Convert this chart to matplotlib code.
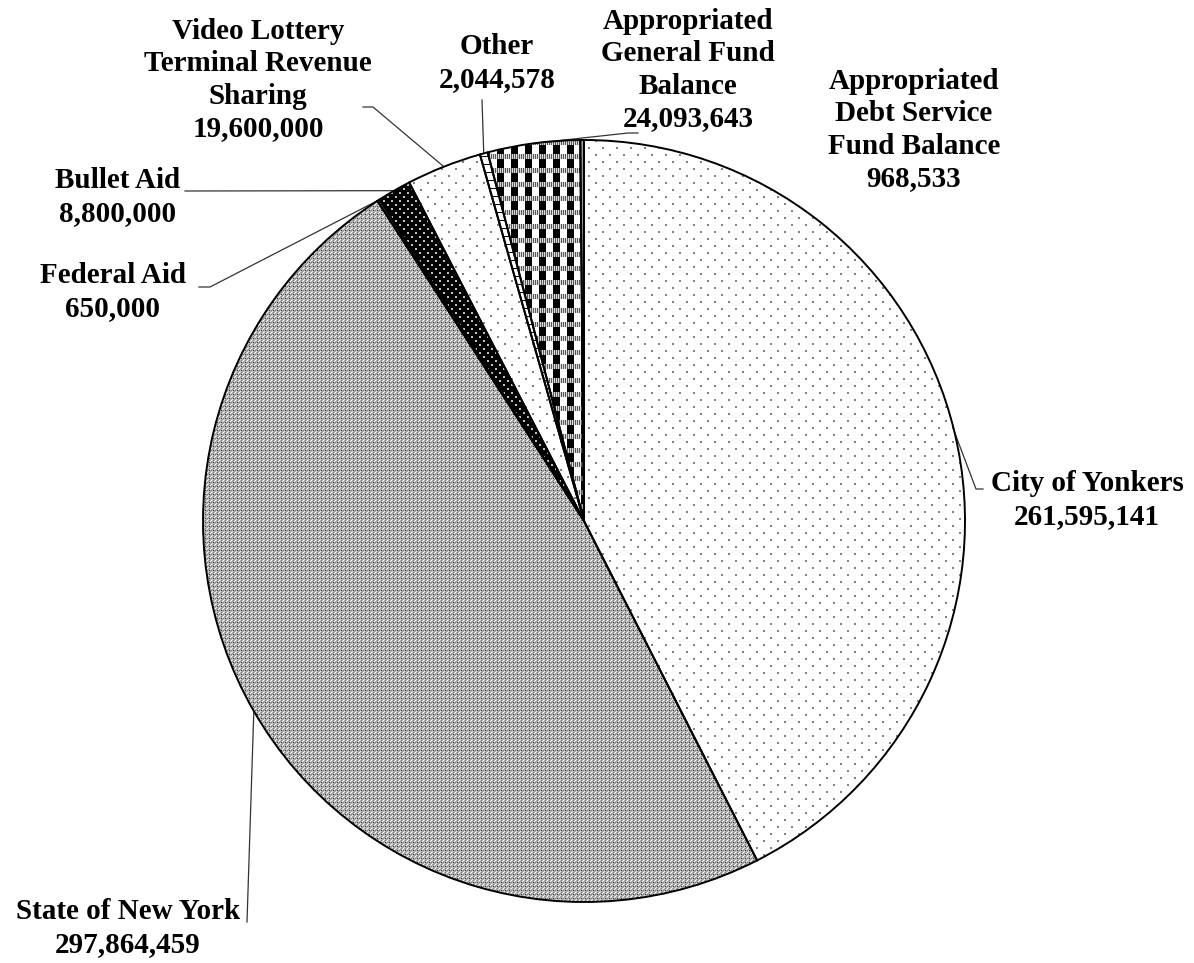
import numpy as np
import matplotlib
matplotlib.use("Agg")
import matplotlib.pyplot as plt

W, H = 1194, 963

sources = [
    "City of Yonkers",
    "State of New York",
    "Federal Aid",
    "Bullet Aid",
    "Video Lottery\nTerminal Revenue\nSharing",
    "Other",
    "Appropriated\nGeneral Fund\nBalance",
    "Appropriated\nDebt Service\nFund Balance",
]
amounts = [261595141, 297864459, 650000, 8800000, 19600000, 2044578, 24093643, 968533]

# label block centres and leader start points, in picture pixels (x right, y down)
label_xy = [(1087, 500), (128, 928), (113, 292), (118, 197), (258, 80),
            (497, 63), (688, 70), (914, 130)]
leader_start = [[(983, 489), (976, 489)], [(247, 922)], [(199, 287), (210, 287)],
                [(185, 191)], [(363, 107), (373, 107)], [(482, 100)],
                [(638, 133), (628, 133)], None]

cx, cy, r = 584, 521, 381


def Y(y):
    return H - y


def dots(period, offset, size, val, bg=1.0):
    t = np.full((period, period), bg)
    t[0:size, 0:size] = val
    t[offset:offset + size, offset:offset + size] = val
    return t


def tile_to(t, n):
    th, tw = t.shape
    return np.tile(t, (n // th + 1, n // tw + 1))[:n, :n]


state_tile = np.array([
    [1.0, 0.72, 0.50, 0.72],
    [0.72, 0.60, 0.72, 0.88],
    [0.50, 0.72, 0.15, 0.72],
    [0.72, 0.88, 0.72, 0.60],
])
check_tile = np.ones((14, 14))
check_tile[0:5, :] = np.tile([0.35, 0.85], 7)
check_tile[5:14, 0:7] = 0.0
check_tile[5:14, 7:14] = 1.0
ladder_tile = np.ones((8, 8))
ladder_tile[0, :] = 0.0
textures = [
    dots(14, 7, 2, 0.5),
    state_tile,
    np.full((4, 4), 0.5),
    dots(8, 4, 2, 0.75, bg=0.0),
    dots(14, 7, 2, 0.5),
    ladder_tile,
    check_tile,
    np.full((4, 4), 0.6),
]

fig = plt.figure(figsize=(W / 100, H / 100), dpi=100)
ax = fig.add_axes([0, 0, 1, 1])

wedges, _ = ax.pie(amounts, startangle=90, counterclock=False, center=(cx, Y(cy)),
                   radius=r, wedgeprops=dict(facecolor="none", edgecolor="black",
                                             linewidth=1.4, zorder=3))

n = 2 * r
for w, tex in zip(wedges, textures):
    im = ax.imshow(tile_to(tex, n), cmap="gray", vmin=0, vmax=1, interpolation="nearest",
                   extent=(cx - r, cx + r, Y(cy) - r, Y(cy) + r), zorder=1)
    im.set_clip_path(w)

font = dict(family=["Liberation Serif", "DejaVu Serif"], fontsize=21, fontweight="bold")
for i, w in enumerate(wedges):
    ang = np.deg2rad((w.theta1 + w.theta2) / 2)
    px, py = w.center[0] + r * np.cos(ang), w.center[1] + r * np.sin(ang)
    text = f"{sources[i]}\n{amounts[i]:,}"
    lx, ly = label_xy[i]
    ax.text(lx, Y(ly), text, ha="center", va="center", multialignment="center",
            linespacing=1.25, zorder=4, **font)
    if leader_start[i]:
        xs = [p[0] for p in leader_start[i]] + [px]
        ys = [Y(p[1]) for p in leader_start[i]] + [py]
        ax.plot(xs, ys, color="#333333", lw=0.9, zorder=2)

ax.set_xlim(0, W)
ax.set_ylim(0, H)
ax.set_aspect("equal")
ax.axis("off")
fig.savefig("out.png", dpi=100, facecolor="white")
